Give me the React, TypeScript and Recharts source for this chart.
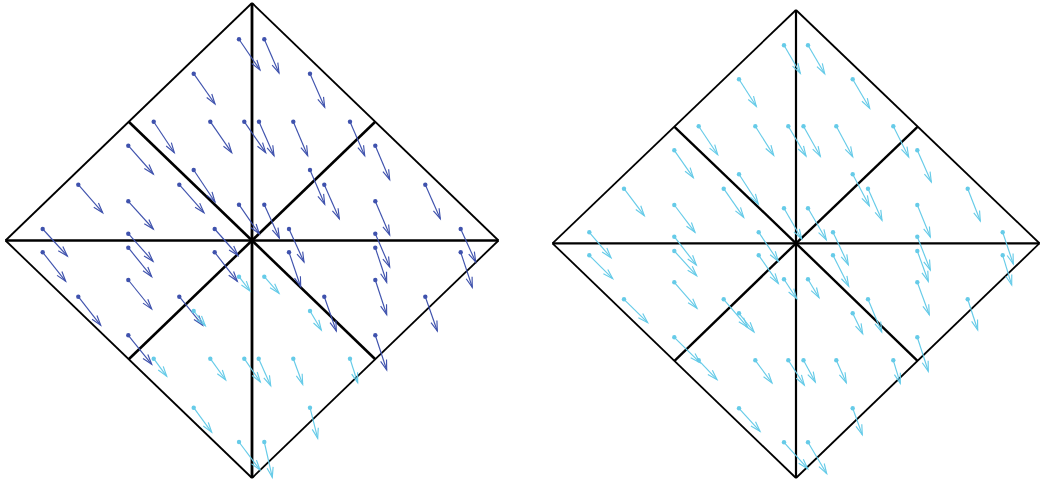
import React from "react";
import { ScatterChart, Scatter, XAxis, YAxis, ReferenceLine } from "recharts";

// Every arrow is [x, y, u, v] in mesh coordinates, measured from each mesh's centre.
type Arrow = number[];

const leftUpperArrows: Arrow[] = [
  [-13, 201.2, 21, -30.7], [12.3, 201.2, 14.7, -33.7], [-58.3, 166.8, 21.3, -30.3], [58, 166.8, 14.7, -33.6],
  [-98.3, 118.8, 20.6, -31], [-41.7, 118.8, 21.4, -31], [-7.7, 118.8, 21.4, -31], [7, 118.8, 15, -34],
  [41.3, 118.8, 14.4, -34], [98, 118.8, 14.7, -34], [-123.7, 94.8, 25, -28.3], [123.3, 94.8, 14.4, -34],
  [-58.3, 70.5, 21.3, -32], [58, 70.5, 14.7, -34.3], [-173.7, 55.8, 24.4, -28], [-72.7, 55.8, 24.7, -28],
  [72.3, 55.8, 15, -34], [173.3, 55.8, 15, -34], [-123.7, 39.2, 25, -27.7], [123.3, 39.2, 14.4, -33.7],
  [-13, 35.8, 20.3, -29.3], [12.3, 35.8, 15, -33.3], [-209.3, 11.5, 24.6, -27], [-123.7, 6.8, 24.7, -27.6],
  [-37.3, 11.5, 23.3, -26.5], [37, 11.5, 15, -33], [123.3, 6.8, 14.4, -33.3], [208.7, 11.5, 15, -33],
];
const leftMiddleArrows: Arrow[] = [
  [-209.3, -11.8, 23, -29], [-123.7, -7.2, 23.4, -29], [-37.3, -11.8, 22.6, -29], [-123.7, -39.5, 23.4, -29],
  [-173.7, -56.2, 22.4, -28.6], [-72.7, -56.2, 23.4, -28.6], [-123.7, -94.8, 23.4, -29],
  [37, -11.8, 11.7, -34.4], [123.3, -7.2, 11.4, -34.6], [208.7, -11.8, 11.6, -35], [123.3, -39.5, 11.4, -34.7],
  [72.3, -56.2, 12, -34.3], [173.3, -56.2, 12, -34.3], [123.3, -94.8, 11.4, -34.7],
];
const leftLowerArrows: Arrow[] = [
  [-13, -36.2, 11, -14.3], [12.3, -36.2, 14.7, -16.6], [-58.3, -70.5, 11.6, -14.7], [58, -70.5, 11.3, -19],
  [-98.3, -118.2, 13, -17.6], [-41.7, -118.2, 15.4, -21.3], [-7.7, -118.2, 16, -23.3], [6.7, -118.2, 12, -27],
  [41.3, -118.2, 9.4, -25.6], [98, -118.2, 7.7, -24], [-58.3, -167.2, 18, -24.6], [58, -167.2, 7.7, -30.6],
  [-13, -201.5, 21, -28], [12.3, -201.5, 8, -35.3],
];
const rightUpperArrows: Arrow[] = [
  [-12, 198, 16.3, -28], [12, 198, 16.7, -28.4], [-57, 164, 17.3, -27], [56.7, 164, 17, -29],
  [-97.3, 117, 19, -28.4], [-40.7, 117, 18.4, -29], [-7.7, 117, 17.7, -29.7], [7.5, 117, 16.8, -30],
  [40.3, 117, 16.4, -30.4], [97.3, 117, 15.4, -30.7], [-121.7, 93, 19, -27.4], [121.3, 93, 14, -31.7],
  [-57, 69, 19.3, -29.7], [56.7, 69, 16.6, -31.4], [-172, 54.6, 20.3, -27], [-72.3, 54.6, 20, -28.6],
  [72, 54.6, 14, -31.6], [171.7, 54.6, 12.6, -32.3], [-121.7, 38.3, 20.7, -27.3], [121.3, 38.3, 13, -32],
  [-12, 35, 17.7, -30.7], [12, 35, 18.3, -31.4], [-206.7, 11, 21.7, -25.4], [-121.7, 6.6, 22, -28.3],
  [-37.3, 11, 19.6, -29], [37, 11, 15.3, -32.4], [121.3, 6.6, 13, -33.3], [206.7, 11, 10.6, -31.7],
];
const rightLowerArrows: Arrow[] = [
  [-206.7, -12, 23.4, -23.4], [-121.7, -7.7, 22.4, -24.7], [-37.3, -12, 19.6, -28], [-121.7, -39, 22.7, -26],
  [-172, -56, 23.7, -23.4], [-72.3, -56, 24, -28], [-121.7, -94, 25.7, -25.4],
  [37, -12, 15.7, -31], [121.3, -7.7, 11, -30.3], [206.7, -12, 9, -29.7], [121.3, -39, 12, -32.4],
  [72, -56, 13.7, -32.7], [171.7, -56, 10, -30.7], [121.3, -94, 11, -34],
  [-12, -36, 12.7, -19.4], [12, -36, 11, -18.4], [-57, -70, 15, -18.7], [56.7, -70, 10, -20.4],
  [-97.3, -117, 18.3, -19.4], [-40.7, -117, 16.7, -22.7], [-7.7, -117, 16, -24.7], [7.5, -117, 11.8, -21.7],
  [40.3, -117, 10, -22.4], [97.3, -117, 7, -23], [-57, -165, 21, -23], [56.7, -165, 9.6, -26.4],
  [-12, -199, 23.7, -26.4], [12, -199, 18.7, -31.4],
];

// Mesh vertices: half width, half height above and below the centre.
const leftMesh = { w: 246.5, top: 237.5, bottom: -237.5, innerW: 123, innerTop: 118.5, innerBottom: -118.5 };
const rightMesh = { w: 243.5, top: 233.3, bottom: -234.7, innerW: 121.5, innerTop: 116.5, innerBottom: -117.5 };

const DARK = "#3f52ad";
const LIGHT = "#66cbe8";
const BLACK = "#000000";
const HEAD_LENGTH = 10.5;
const HEAD_ANGLE = 0.3;

type Pt = { x: number; y: number };
type Widths = { outer: number; vertical: number; horizontal: number; inner: number };

const ArrowShape = (props: any, color: string) => {
  const { x1, y1, x2, y2 } = props;
  const a = Math.atan2(y2 - y1, x2 - x1);
  const bx = (s: number) => x2 - HEAD_LENGTH * Math.cos(a + s * HEAD_ANGLE);
  const by = (s: number) => y2 - HEAD_LENGTH * Math.sin(a + s * HEAD_ANGLE);
  return (
    <g fill="none" stroke={color} strokeWidth={1.15}>
      <line x1={x1} y1={y1} x2={x2} y2={y2} />
      <polyline points={`${bx(1)},${by(1)} ${x2},${y2} ${bx(-1)},${by(-1)}`} />
    </g>
  );
};

const Edge = (a: Pt, b: Pt, width: number, key: string) => (
  <ReferenceLine key={key} segment={[a, b]} stroke={BLACK} strokeWidth={width} ifOverflow="visible" />
);

type Group = { arrows: Arrow[]; color: string };

const meshEdges = (m: typeof leftMesh, k: Widths) => {
  const c = { x: 0, y: 0 };
  const N = { x: 0, y: m.top };
  const S = { x: 0, y: m.bottom };
  const W = { x: -m.w, y: 0 };
  const E = { x: m.w, y: 0 };
  const NW = { x: -m.innerW, y: m.innerTop };
  const NE = { x: m.innerW, y: m.innerTop };
  const SW = { x: -m.innerW, y: m.innerBottom };
  const SE = { x: m.innerW, y: m.innerBottom };
  return [
    Edge(N, W, k.outer, "e1"), Edge(W, S, k.outer, "e2"), Edge(S, E, k.outer, "e3"), Edge(E, N, k.outer, "e4"),
    Edge(N, S, k.vertical, "e5"), Edge(W, E, k.horizontal, "e6"),
    Edge(NW, c, k.inner, "e7"), Edge(NE, c, k.inner, "e8"), Edge(SW, c, k.inner, "e9"), Edge(SE, c, k.inner, "e10"),
  ];
};

const Panel = ({ left, xDomain, yDomain, mesh, widths, groups }: { left: number; xDomain: number[]; yDomain: number[]; mesh: typeof leftMesh; widths: Widths; groups: Group[] }) => (
  <div style={{ position: "absolute", left, top: 0 }}>
    <ScatterChart width={520} height={481} margin={{ top: 0, right: 0, bottom: 0, left: 0 }}>
      <XAxis type="number" dataKey="x" domain={xDomain} hide allowDataOverflow />
      <YAxis type="number" dataKey="y" domain={yDomain} hide allowDataOverflow />
      {meshEdges(mesh, widths)}
      {groups.map((g, gi) =>
        g.arrows.map((r, i) => (
          <ReferenceLine
            key={`a${gi}-${i}`}
            segment={[{ x: r[0], y: r[1] }, { x: r[0] + r[2], y: r[1] + r[3] }]}
            ifOverflow="visible"
            shape={(p: any) => ArrowShape(p, g.color)}
          />
        ))
      )}
      {groups.map((g, gi) => (
        <Scatter
          key={`s${gi}`}
          data={g.arrows.map((r) => ({ x: r[0], y: r[1] }))}
          isAnimationActive={false}
          shape={(p: any) => <circle cx={p.cx} cy={p.cy} r={2.2} fill={g.color} />}
        />
      ))}
    </ScatterChart>
  </div>
);

export default function App() {
  return (
    <div style={{ position: "absolute", left: 0, top: 0, width: 1040, height: 481, background: "#fff", overflow: "hidden" }}>
      <Panel
        left={0}
        xDomain={[-252, 268]}
        yDomain={[-240.5, 240.5]}
        mesh={leftMesh}
        widths={{ outer: 1.8, vertical: 2.8, horizontal: 2.5, inner: 2.6 }}
        groups={[
          { arrows: leftUpperArrows, color: DARK },
          { arrows: leftMiddleArrows, color: DARK },
          { arrows: leftLowerArrows, color: LIGHT },
        ]}
      />
      <Panel
        left={520}
        xDomain={[-276, 244]}
        yDomain={[-237.7, 243.3]}
        mesh={rightMesh}
        widths={{ outer: 1.8, vertical: 2.2, horizontal: 2.3, inner: 2.4 }}
        groups={[
          { arrows: rightUpperArrows, color: LIGHT },
          { arrows: rightLowerArrows, color: LIGHT },
        ]}
      />
    </div>
  );
}
